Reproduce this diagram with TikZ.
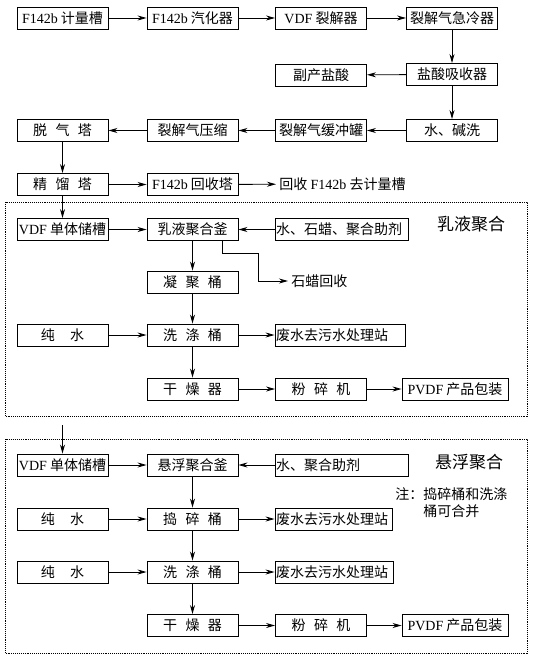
\documentclass[tikz,border=0pt]{standalone}
\usepackage{fontspec}
\usetikzlibrary{arrows.meta}
\setmainfont{Liberation Serif}
\newfontfamily\cjk{Noto Sans CJK SC}
\newcommand{\en}[1]{{\rmfamily #1}}
\newcommand{\gap}{\hspace{0.6em}}
\tikzstyle{unit} = [rectangle, draw, minimum width=91pt, minimum height=22pt, inner sep=1pt]
\tikzstyle{wideunit} = [unit, align=left]
\tikzstyle{plain} = [inner sep=3pt]
\tikzstyle{group} = [draw, densely dotted, line width=0.9pt]

\begin{document}
\begin{tikzpicture}[->,>={Stealth[length=9pt,width=5pt]},line width=0.9pt,x=1pt,y=-1pt,
  font=\cjk\fontsize{14}{17}\selectfont]
  \useasboundingbox (0,0) rectangle (536,663);
  % raw material and cracking
  \node[unit] (meter) at (62.5,18) {\en{F142b} 计量槽};
  \node[unit] (vapor) at (192.5,18) {\en{F142b} 汽化器};
  \node[unit] (crack) at (321,18) {\en{VDF} 裂解器};
  \node[unit] (quench) at (452,18) {裂解气急冷器};
  \node[unit] (acid) at (321,75) {副产盐酸};
  \node[unit] (absorb) at (452,74.5) {盐酸吸收器};
  \node[unit] (wash) at (452,130.5) {水、碱洗};
  \node[unit] (buffer) at (321,130.5) {裂解气缓冲罐};
  \node[unit] (compress) at (192.5,130.5) {裂解气压缩};
  \node[unit] (degas) at (62.5,130.5) {脱\gap 气\gap 塔};
  \node[unit] (distil) at (62.5,184.5) {精\gap 馏\gap 塔};
  \node[unit] (recover) at (192.5,184.5) {\en{F142b} 回收塔};
  \node[plain, anchor=west] (back) at (276,184) {回收 \en{F142b} 去计量槽};

  \path (meter) edge node {} (vapor);
  \path (vapor) edge node {} (crack);
  \path (crack) edge node {} (quench);
  \path (quench) edge node {} (absorb);
  \path (absorb) edge node {} (acid);
  \path (absorb) edge node {} (wash);
  \path (wash) edge node {} (buffer);
  \path (buffer) edge node {} (compress);
  \path (compress) edge node {} (degas);
  \path (degas) edge node {} (distil);
  \path (distil) edge node {} (recover);
  \path (recover) edge node {} (back);

  % emulsion polymerisation
  \draw[group,-] (5,202) rectangle (527,416);
  \node[unit] (store1) at (62.5,229.5) {\en{VDF} 单体储槽};
  \node[unit] (emul) at (192.5,229.5) {乳液聚合釜};
  \node[wideunit, text width=131pt] (aid1) at (341.5,229.5) {水、石蜡、聚合助剂};
  \node[plain] (title1) at (471,224) {\fontsize{17}{20}\selectfont 乳液聚合};
  \node[unit] (coag) at (192.5,282) {凝\gap 聚\gap 桶};
  \node[plain, anchor=west] (wax) at (288,281) {石蜡回收};
  \node[unit] (pure1) at (62.5,335) {纯\hspace{1.1em}水};
  \node[unit] (rinse1) at (192.5,335) {洗\gap 涤\gap 桶};
  \node[wideunit, text width=128pt] (waste1) at (340,335) {废水去污水处理站};
  \node[unit] (dry1) at (192.5,389) {干\gap 燥\gap 器};
  \node[unit] (mill1) at (321,389) {粉\gap 碎\gap 机};
  \node[unit, minimum width=106pt] (pack1) at (455,389) {\en{PVDF} 产品包装};

  \path (distil) edge node {} (store1);
  \path (store1) edge node {} (emul);
  \path (aid1) edge node {} (emul);
  \path (emul) edge node {} (coag);
  \draw ([xshift=29.5pt]emul.south) |- ++(36,12.5) |- (wax);
  \path (coag) edge node {} (rinse1);
  \path (pure1) edge node {} (rinse1);
  \path (rinse1) edge node {} (waste1);
  \path (rinse1) edge node {} (dry1);
  \path (dry1) edge node {} (mill1);
  \path (mill1) edge node {} (pack1);

  % suspension polymerisation
  \draw[group,-] (5,439) rectangle (527,653);
  \coordinate (feed2) at (62.5,425);
  \node[unit] (store2) at (62.5,465) {\en{VDF} 单体储槽};
  \node[unit] (susp) at (192.5,465) {悬浮聚合釜};
  \node[wideunit, text width=131pt] (aid2) at (341.5,465) {水、聚合助剂};
  \node[plain] (title2) at (469,462) {\fontsize{17}{20}\selectfont 悬浮聚合};
  \node[plain, anchor=west, align=left] (note) at (392,503)
    {\fontsize{14}{20}\selectfont 注：捣碎桶和洗涤\\\phantom{注：}桶可合并};
  \node[unit] (pure2) at (62.5,519) {纯\hspace{1.1em}水};
  \node[unit] (crush) at (192.5,519) {捣\gap 碎\gap 桶};
  \node[wideunit, text width=115pt] (waste2) at (333.5,519) {废水去污水处理站};
  \node[unit] (pure3) at (62.5,572) {纯\hspace{1.1em}水};
  \node[unit] (rinse2) at (192.5,572) {洗\gap 涤\gap 桶};
  \node[wideunit, text width=116pt] (waste3) at (334,572) {废水去污水处理站};
  \node[unit] (dry2) at (192.5,625.5) {干\gap 燥\gap 器};
  \node[unit] (mill2) at (321,625.5) {粉\gap 碎\gap 机};
  \node[unit, minimum width=106pt] (pack2) at (455,625.5) {\en{PVDF} 产品包装};

  \path (feed2) edge node {} (store2);
  \path (store2) edge node {} (susp);
  \path (aid2) edge node {} (susp);
  \path (susp) edge node {} (crush);
  \path (pure2) edge node {} (crush);
  \path (crush) edge node {} (waste2);
  \path (crush) edge node {} (rinse2);
  \path (pure3) edge node {} (rinse2);
  \path (rinse2) edge node {} (waste3);
  \path (rinse2) edge node {} (dry2);
  \path (dry2) edge node {} (mill2);
  \path (mill2) edge node {} (pack2);
\end{tikzpicture}
\end{document}
